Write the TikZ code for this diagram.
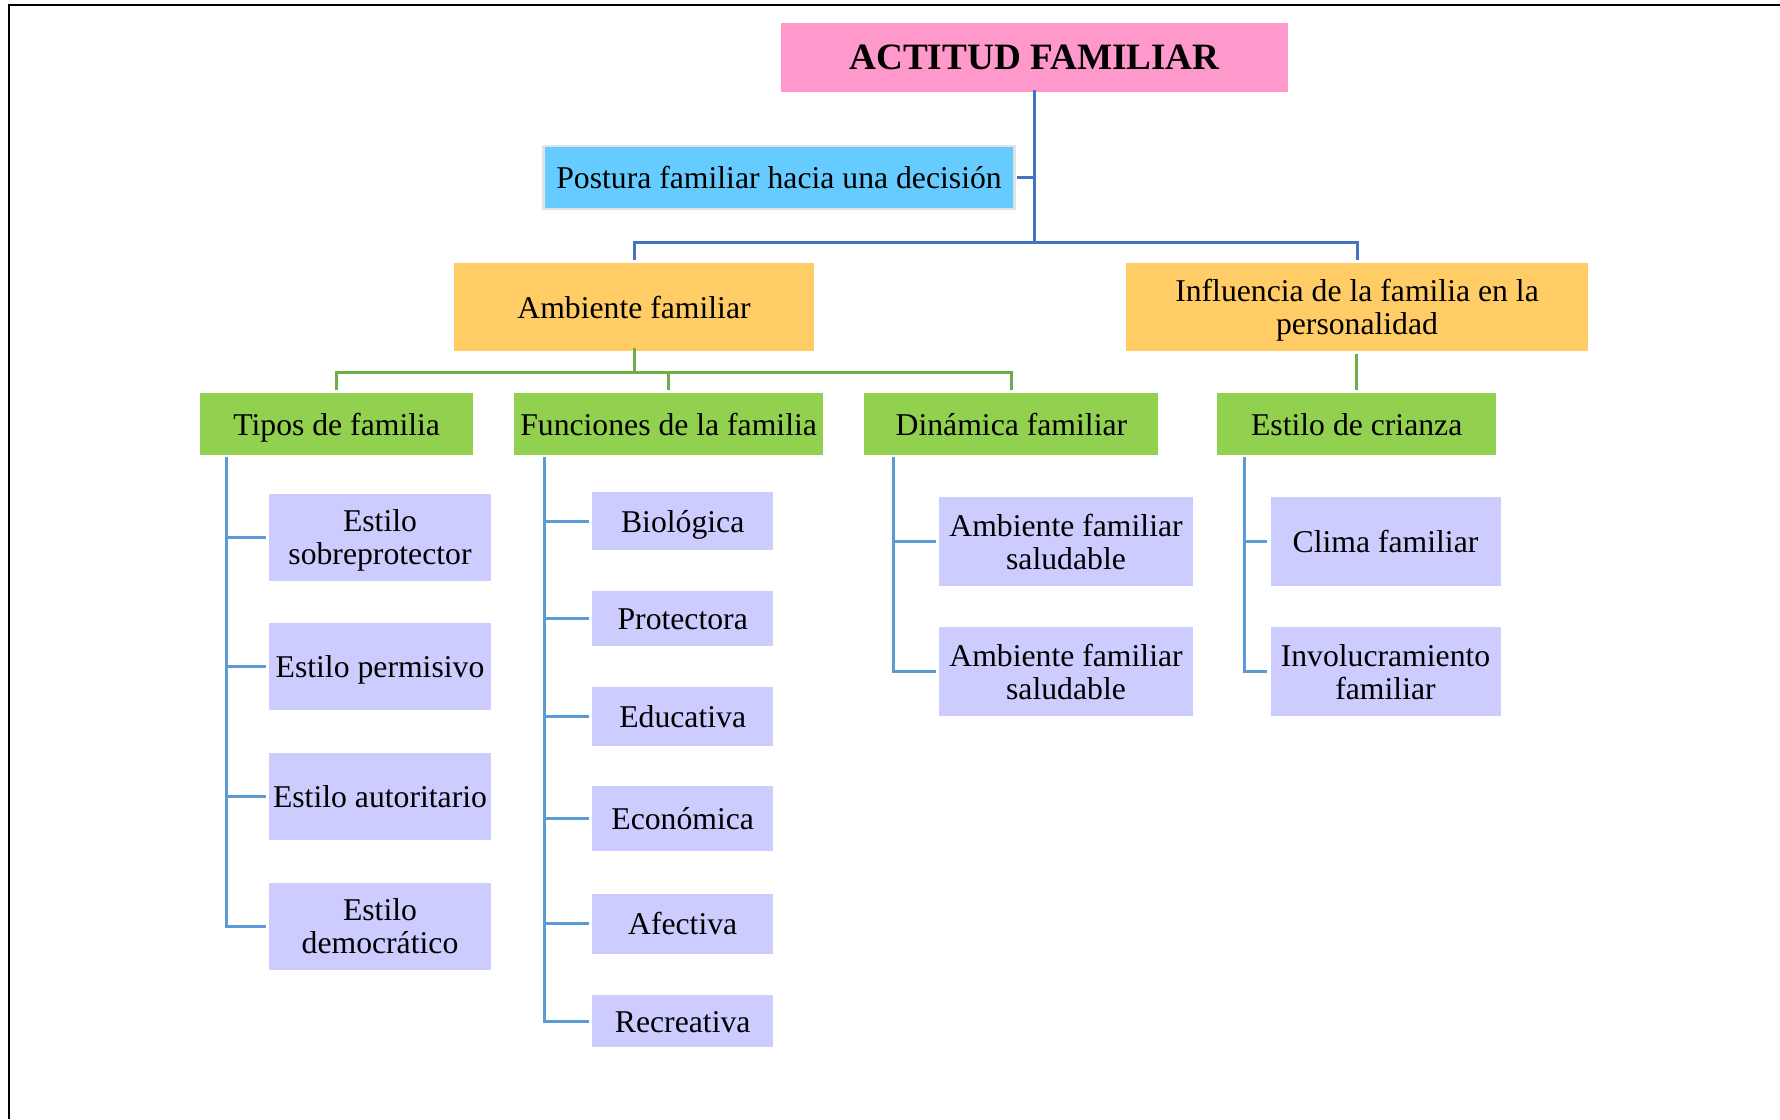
\documentclass[tikz,border=0pt]{standalone}
\usepackage{fontspec}
\setmainfont{Liberation Serif}
\definecolor{pinkc}{HTML}{FF99CC}
\definecolor{skyc}{HTML}{66CCFF}
\definecolor{orangec}{HTML}{FFCC66}
\definecolor{greenc}{HTML}{92D050}
\definecolor{lavc}{HTML}{CCCCFF}
\definecolor{lineA}{HTML}{4472C4}
\definecolor{lineB}{HTML}{70AD47}
\definecolor{lineC}{HTML}{5B9BD5}
\begin{document}
\begin{tikzpicture}[x=1pt,y=-1pt,
  box/.style={inner sep=0pt, align=center, text=black, font=\fontsize{31.7}{33}\selectfont, text height=28.4pt, text depth=6.3pt},
  two/.style={text height=61.4pt, text depth=6.3pt},
  titlebox/.style={box, fill=pinkc, minimum width=507.5pt, minimum height=69pt, font=\fontsize{37.2}{40}\selectfont\bfseries, text height=31pt, text depth=7pt},
  skybox/.style={box, fill=skyc, draw=gray!22, line width=2.5pt, minimum width=471pt, minimum height=63pt},
  orbox/.style={box, fill=orangec, minimum height=88pt},
  grbox/.style={box, fill=greenc, minimum height=62pt},
  lvbox/.style={box, fill=lavc},
  lA/.style={draw=lineA, line width=3pt},
  lB/.style={draw=lineB, line width=3pt},
  lC/.style={draw=lineC, line width=3pt, shorten >=3pt}]
\useasboundingbox (0,0) rectangle (1780,1119);
\fill[white] (0,0) rectangle (1780,1119);
\draw[line width=2pt] (9,1119) -- (9,5) -- (1780,5);

% level 0 and 1
\node[titlebox] (title) at (1034.5,57.5) {ACTITUD FAMILIAR};
\node[skybox] (post) at (779,177.5) {Postura familiar hacia una decisión};
\node[orbox, minimum width=360pt] (amb) at (634,307) {Ambiente familiar};
\node[orbox, two, minimum width=462pt] (inf) at (1357,307) {Influencia de la familia en la\\personalidad};

% level 2
\node[grbox, minimum width=273pt] (tipos) at (336.7,424) {Tipos de familia};
\node[grbox, minimum width=308.5pt] (func) at (668.6,424) {Funciones de la familia};
\node[grbox, minimum width=294pt] (din) at (1011.4,424) {Dinámica familiar};
\node[grbox, minimum width=279.4pt] (cri) at (1356.7,424) {Estilo de crianza};

% level 3: tipos
\node[lvbox, two, minimum width=222pt, minimum height=87pt] (t1) at (380,537) {Estilo\\sobreprotector};
\node[lvbox, minimum width=222pt, minimum height=87pt] (t2) at (380,666.5) {Estilo permisivo};
\node[lvbox, minimum width=222pt, minimum height=87pt] (t3) at (380,796) {Estilo autoritario};
\node[lvbox, two, minimum width=222pt, minimum height=87pt] (t4) at (380,926) {Estilo\\democrático};

% level 3: funciones
\node[lvbox, minimum width=180.5pt, minimum height=58pt] (f1) at (682.7,521) {Biológica};
\node[lvbox, minimum width=180.5pt, minimum height=55pt] (f2) at (682.7,618) {Protectora};
\node[lvbox, minimum width=180.5pt, minimum height=59pt] (f3) at (682.7,716) {Educativa};
\node[lvbox, minimum width=180.5pt, minimum height=65pt] (f4) at (682.7,818.5) {Económica};
\node[lvbox, minimum width=180.5pt, minimum height=60pt] (f5) at (682.7,923.5) {Afectiva};
\node[lvbox, minimum width=180.5pt, minimum height=52pt] (f6) at (682.7,1021) {Recreativa};

% level 3: dinamica
\node[lvbox, two, minimum width=254.5pt, minimum height=88.5pt] (d1) at (1066,541.5) {Ambiente familiar\\saludable};
\node[lvbox, two, minimum width=254.5pt, minimum height=88.5pt] (d2) at (1066,671.5) {Ambiente familiar\\saludable};

% level 3: crianza
\node[lvbox, minimum width=230pt, minimum height=88.5pt] (c1) at (1385.5,541.5) {Clima familiar};
\node[lvbox, two, minimum width=230pt, minimum height=88.5pt] (c2) at (1385.5,671.5) {Involucramiento\\familiar};

% connectors level 1
\coordinate (busA) at (0,242);
\draw[lA] ([yshift=2pt]title.south) -- (title.south |- busA);
\draw[lA, shorten >=3pt] (title.south |- busA) -| (amb.north);
\draw[lA, shorten >=3pt] (title.south |- busA) -| (inf.north);
\draw[lA] ([xshift=1.5pt]post.east) -- (post.east -| title.south);

% connectors level 2
\coordinate (busB) at (0,372);
\draw[lB] ([yshift=3pt]amb.south) -- (amb.south |- busB);
\draw[lB, shorten >=3pt] (amb.south |- busB) -| (tipos.north);
\draw[lB, shorten >=3pt] (amb.south |- busB) -| (din.north);
\draw[lB, shorten >=3pt] (func.north |- busB) -- (func.north);
\draw[lB, shorten >=3pt, shorten <=3pt] (inf.south -| cri.north) -- (cri.north);

% connectors level 3
\coordinate (tt) at (226,457);
\coordinate (ft) at (544.3,457);
\coordinate (dt) at (893,457);
\coordinate (ct) at (1244.2,457);
\draw[lC] (tt) |- (t4.west);
\foreach \n in {t1,t2,t3} \draw[lC] (tt |- \n.west) -- (\n.west);
\draw[lC] (ft) |- (f6.west);
\foreach \n in {f1,f2,f3,f4,f5} \draw[lC] (ft |- \n.west) -- (\n.west);
\draw[lC] (dt) |- (d2.west);
\draw[lC] (dt |- d1.west) -- (d1.west);
\draw[lC] (ct) |- (c2.west);
\draw[lC] (ct |- c1.west) -- (c1.west);
\end{tikzpicture}
\end{document}
